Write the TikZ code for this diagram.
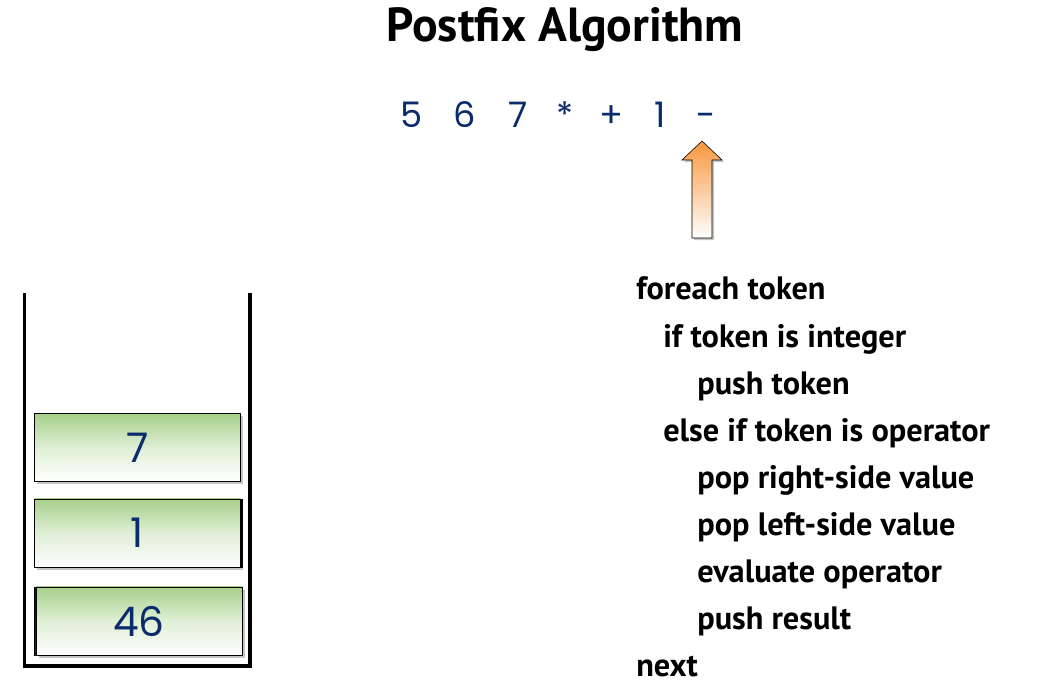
\documentclass[tikz,border=0pt]{standalone}
\usepackage{fontspec}
\setmainfont{PT Sans}
\newfontfamily\handfont{Poppins}
\usetikzlibrary{positioning, shadows, calc}

\definecolor{inkblue}{HTML}{0B2C6B}
\definecolor{cellgreen}{HTML}{A6D08A}
\definecolor{ptrorange}{HTML}{F7963E}

\begin{document}
\begin{tikzpicture}[
    x=0.025cm, y=-0.025cm,
    % Styles
    title/.style={ % Heading
        font=\fontsize{34}{40}\selectfont\bfseries
    },
    tok/.style={ % Postfix input token
        font=\handfont\fontsize{25}{30}\selectfont,
        text=inkblue,
        anchor=base
    },
    code/.style={ % Pseudo-code line
        font=\fontsize{23}{28}\selectfont\bfseries,
        anchor=base west,
        inner sep=0pt
    },
    cell/.style={ % Stack entry
        rectangle,
        draw,
        thin,
        minimum width=5.15cm,
        minimum height=1.7cm,
        top color=cellgreen,
        bottom color=white,
        middle color=cellgreen!35,
        font=\handfont\fontsize{29}{34}\selectfont,
        text=inkblue,
        drop shadow={opacity=0.45, shadow xshift=2pt, shadow yshift=-2pt}
    },
    wall/.style={ % Stack container
        line width=2.6pt
    },
    pointer/.style={ % Current token arrow
        draw,
        thin,
        top color=ptrorange,
        bottom color=white,
        drop shadow={opacity=0.45, shadow xshift=1.5pt, shadow yshift=-1.5pt}
    }
]
    \useasboundingbox (0,0) rectangle (1056,694);

    % Heading
    \node[title] (head) at (565,30) {Postfix Algorithm};

    % Input tokens
    \foreach \t/\x/\n in {5/412/tok1, 6/465/tok2, 7/518/tok3, */565/tok4, +/611/tok5, 1/660/tok6, -/706/tok7}
        \node[tok] (\n) at (\x,128) {\t};

    % Arrow under the current token
    \coordinate (tip) at (702,141);
    \path[pointer] (tip) -- ++(20,19) -- ++(-10,0) -- ++(0,78) -- ++(-20,0)
        -- ++(0,-78) -- ++(-10,0) -- cycle;

    % Stack
    \draw[wall] (24.5,293) -- (24.5,666) -- (250,666) -- (250,293);
    \node[cell] (c7) at (137.5,447.5) {7};
    \node[cell, copy shadow={shadow xshift=1.5pt, shadow yshift=0pt}] (c1) at (137.5,533) {1};
    \node[cell, copy shadow={shadow xshift=-1.5pt, shadow yshift=0pt}] (c46) at (139,621) {46};

    % Pseudo-code
    \node[code] (l1) at (636,300) {foreach token};
    \node[code] (l2) at (663,347) {if token is integer};
    \node[code] (l3) at (697,394) {push token};
    \node[code] (l4) at (663,441) {else if token is operator};
    \node[code] (l5) at (697,488) {pop right-side value};
    \node[code] (l6) at (697,535) {pop left-side value};
    \node[code] (l7) at (697,582) {evaluate operator};
    \node[code] (l8) at (697,629) {push result};
    \node[code] (l9) at (636,676) {next};
\end{tikzpicture}
\end{document}
